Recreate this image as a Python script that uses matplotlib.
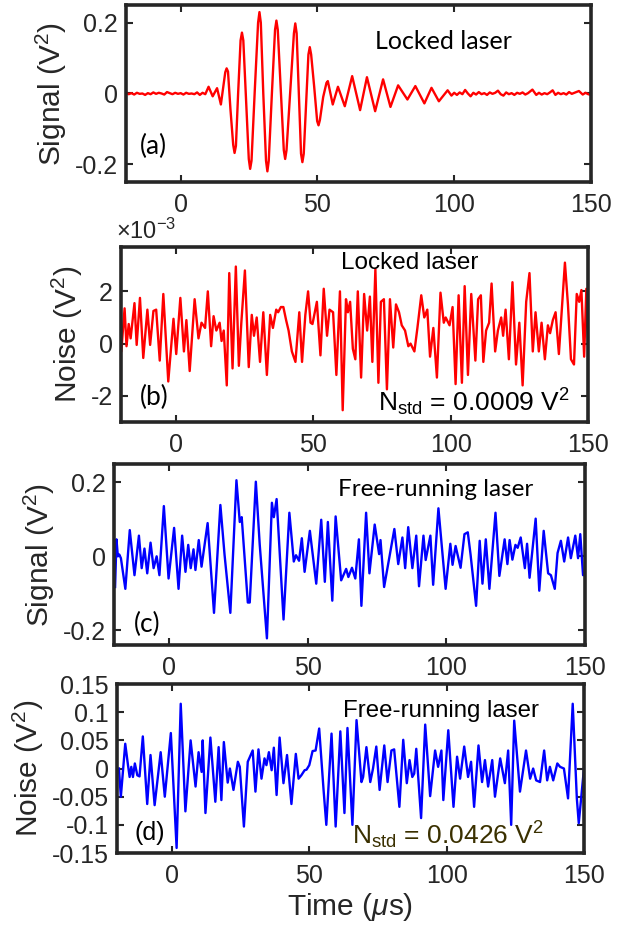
import matplotlib
matplotlib.use('Agg')
import matplotlib.pyplot as plt
import numpy as np

plt.rcParams['font.family'] = ['Liberation Sans', 'DejaVu Sans']
plt.rcParams['axes.unicode_minus'] = False
plt.rcParams['mathtext.fontset'] = 'custom'
plt.rcParams['mathtext.rm'] = 'Liberation Sans'
plt.rcParams['mathtext.it'] = 'Liberation Sans:italic'

# ---- (a) locked laser, signal (V^2)
a_t = [-20, -19, -18, -17, -16, -15, -14, -13, -12, -11, -10, -9, -8, -7, -6, -5, -4, -3,
       -2, -1, 0, 1, 2, 3, 4, 5, 6, 7, 8, 9, 10.2, 11.7, 13.3, 14.7,
       16.3, 16.8, 17.3, 18.2, 19.2, 19.7, 20.2, 21.0, 21.9, 22.4, 22.9, 23.9, 24.9, 25.4,
       25.9, 27.1, 28.3, 28.8, 29.3, 30.2, 31.2, 31.7, 32.2, 33.35, 34.5, 35.0, 35.5, 36.6,
       37.7, 38.2, 38.7, 40.0, 41.4, 41.9, 42.4, 43.2, 44.0, 44.5, 45.0, 45.85, 46.7, 47.2,
       47.7, 48.8, 49.9, 50.4, 50.9, 52.1, 53.3, 53.8, 55.6, 57.5, 60.0,
       62.7, 65.6, 68.1, 71.1, 74.0, 76.7, 79.5, 82.9, 85.8, 89.1, 91.7, 94.4, 97.6,
       99, 100, 101, 102, 103, 104, 105, 106, 107, 108, 109, 110, 111, 112, 113, 114,
       115, 116, 117, 118, 119, 120, 121, 122, 123, 124, 125, 126, 127, 128.6, 130,
       131, 132, 133, 134, 135, 136, 137, 138, 139, 140, 141, 142, 143, 144, 145.6,
       147, 148, 149, 150]
a_v = [0.003, -0.002, 0.001, -0.003, 0.002, -0.001, 0.000, -0.004, 0.001, -0.002, 0.003,
       -0.001, 0.002, 0.000, -0.003, 0.004, 0.001, -0.002, 0.002, -0.001, 0.001, -0.003,
       0.002, -0.001, 0.000, -0.002, 0.003, -0.004, 0.002, -0.002, 0.019, -0.008, 0.015,
       -0.031,
       0.060, 0.071, 0.062, -0.045, -0.145, -0.168, -0.148, 0.000, 0.150, 0.172, 0.150,
       -0.020, -0.185, -0.213, -0.190, 0.010, 0.200, 0.230, 0.200, 0.000, -0.190, -0.220,
       -0.190, 0.000, 0.180, 0.206, 0.180, 0.010, -0.160, -0.185, -0.160, 0.000, 0.170,
       0.198, 0.170, 0.000, -0.170, -0.194, -0.170, -0.030, 0.110, 0.131, 0.110, 0.020,
       -0.078, -0.090, -0.075, -0.010, 0.030, 0.035, -0.031, 0.019, -0.036,
       0.049, -0.047, 0.046, -0.050, 0.040, -0.038, 0.023, -0.017, 0.021, -0.028, 0.016,
       -0.022, 0.009,
       -0.006, 0.002, -0.004, 0.003, -0.002, 0.010, 0.000, -0.008, 0.002, -0.003, 0.004,
       -0.002, 0.001, -0.004, 0.003, -0.001, 0.002, 0.008, -0.002, -0.006, 0.003, -0.002,
       0.001, -0.004, 0.002, -0.001, 0.003, -0.003, 0.001, 0.011, -0.004, 0.002, -0.003,
       0.001, -0.002, 0.003, 0.009, -0.004, 0.002, -0.002, 0.001, -0.003, 0.004, -0.001,
       0.002, 0.007, -0.003, 0.002, -0.002, -0.004]

# ---- (b) locked laser, noise (x 1e-3 V^2)
b_t = [-20.6, -19.9, -18.7, -18.0, -17.2, -16.5, -15.1, -14.3, -13.1, -11.9, -10.4, -9.4,
       -8.2, -7.2, -5.9, -4.6, -2.8, -0.9, 0.1, 1.6, 2.9, 3.8, 5.0, 6.8, 8.2, 9.3, 10.6,
       11.6, 12.8, 13.7, 14.7, 15.9, 16.6, 17.4, 18.5, 19.4, 20.6, 21.8, 22.9, 23.8, 25.1,
       26.5, 27.6, 28.4, 29.4, 30.6, 31.8, 33.1, 34.3, 35.3, 36.5, 37.2, 38.2, 39.1, 40.1,
       41.0, 42.2, 43.5, 44.9, 45.9, 47.1, 48.1, 49.0, 49.7, 51.3, 52.6, 53.8, 55.0, 55.9,
       57.2, 58.4, 59.7, 60.7, 61.9, 62.6, 63.4, 64.4, 65.3, 66.2, 67.4, 68.5, 69.6, 70.6,
       71.5, 72.6, 73.7, 74.6, 75.7, 76.8, 77.9, 79.1, 80.1, 81.2, 82.2, 83.4, 84.6, 85.4,
       86.8, 87.9, 89.3, 90.4, 91.5, 92.5, 93.7, 95.0, 96.3, 97.5, 98.2, 99.6, 100.7, 101.8,
       102.9, 104.1, 105.1, 106.3, 107.5, 109.0, 110.0, 111.0, 111.9, 112.9, 114.0, 114.9,
       116.2, 117.2, 118.4, 119.1, 120.0, 121.2, 122.5, 123.8, 125.0, 126.2, 127.5, 128.7,
       129.9, 130.9, 132.1, 133.1, 134.3, 135.4, 136.2, 137.2, 138.2, 139.4, 141.6, 142.7,
       143.8, 144.9, 145.9, 146.8, 147.6, 148.6, 149.4, 150.0]
b_v = [0.2, -0.3, 1.35, -0.1, 0.75, 0.2, 1.55, -0.05, 1.75, -0.55, 1.3, -0.05, 1.25, 1.3,
       -0.65, 1.9, -1.45, 0.95, -0.4, 1.75, -0.3, 0.9, -1.05, 1.7, 0.2, 0.8, 0.6, 2.0, -0.1,
       1.05, 0.5, 0.8, 0.1, 0.5, -1.6, 2.7, -0.95, 2.95, -0.85, 0.8, 2.8, -0.9, 1.1, 0.3, 1.0,
       -0.7, 1.2, -1.2, 1.1, 0.6, 1.3, 1.2, 1.4, 1.4, 0.9, 0.5, -0.3, -0.7, 1.2, -0.7, 1.1,
       2.0, 0.8, 0.75, 1.6, -0.45, 2.1, 0.3, 1.3, 1.2, -1.2, 2.0, -2.55, 1.7, 1.2, 1.6, -0.2,
       -0.6, 2.0, -1.3, 1.9, 0.5, 1.8, -0.7, 2.85, -1.5, 1.6, 1.7, -1.75, 1.7, -0.15, 1.5,
       1.2, 0.7, 0.5, -0.1, 0.0, -0.3, 0.6, 1.85, 1.0, 1.3, -0.5, 0.6, -1.3, 1.95, 0.8, 1.0,
       0.7, 1.4, -1.55, 1.85, -1.5, 2.2, -1.2, 1.9, -0.65, 1.7, 1.85, -0.7, 0.5, 0.8, 2.3,
       -0.3, 0.5, 1.0, 0.3, 1.3, -0.6, 2.35, -0.8, 0.8, -1.6, 1.6, 2.7, -0.3, 1.2, -0.3, 0.8,
       -0.6, 0.7, 0.4, 0.9, 1.2, -0.4, 3.1, 1.5, -0.6, -0.8, 1.9, 1.6, 2.05, -0.5, 2.1, 0.0]

# ---- (c) free-running laser, signal (V^2)
c_t = [-19.6, -19.1, -18.6, -18.1, -17.5, -15.9, -14.3, -12.6, -11.0, -10.0, -9.0, -8.0,
       -6.8, -5.7, -4.6, -3.6, -2.0, -0.3, 1.7, 3.3, 4.6, 5.8, 6.8, 7.7, 8.7, 9.4, 10.6,
       11.6, 13.8, 16.1, 18.4, 19.9, 22.0, 24.2, 25.4, 26.1, 28.3, 29.0, 31.2, 32.6, 35.2,
       37.0, 37.7, 38.7, 41.2, 43.3, 44.9, 45.7, 46.8, 47.8, 48.8, 50.7, 53.0, 54.8, 56.1,
       57.2, 58.8, 60.0, 62.0, 63.8, 64.6, 65.9, 67.1, 68.4, 69.3, 71.0, 72.2, 74.1, 75.7,
       76.2, 77.5, 81.2, 82.6, 84.1, 85.1, 86.2, 87.7, 89.1, 90.1, 91.7, 92.5, 94.2, 95.2,
       97.1, 99.7, 101.4, 102.2, 103.3, 105.1, 106.5, 107.7, 108.7, 110.7, 112.0, 113.0,
       114.2, 115.5, 117.7, 119.1, 121.0, 122.0, 122.8, 123.8, 124.9, 125.7, 126.8, 128.3,
       129.1, 130.0, 132.2, 133.5, 135.1, 136.7, 137.7, 139.1, 140.1, 141.3, 142.5, 143.9,
       144.9, 146.5, 147.5, 148.3, 149.3, 150.0]
c_v = [-0.083, 0.046, 0.000, 0.005, -0.005, -0.088, 0.071, -0.051, 0.056, -0.032, 0.021,
       -0.046, 0.037, -0.032, 0.000, -0.051, 0.136, -0.060, 0.077, -0.088, 0.056, -0.042,
       0.031, -0.032, 0.019, -0.037, 0.044, -0.028, 0.090, -0.153, 0.139, 0.005, -0.153,
       0.206, 0.093, 0.106, -0.125, -0.125, 0.202, 0.032, -0.222, 0.145, 0.106, 0.155,
       -0.171, 0.118, -0.014, 0.003, -0.012, 0.049, -0.042, 0.069, -0.074, 0.099, -0.069,
       0.093, -0.120, 0.108, -0.065, -0.034, -0.056, -0.031, -0.060, 0.046, -0.134, 0.118,
       -0.046, 0.086, 0.006, 0.044, -0.083, 0.074, -0.021, 0.051, -0.032, 0.079, -0.032,
       0.056, -0.081, 0.056, -0.010, 0.056, -0.077, 0.130, -0.088, 0.034, -0.023, 0.028,
       -0.031, 0.060, 0.065, 0.005, -0.134, 0.042, -0.074, 0.046, -0.088, 0.118, -0.053,
       0.046, -0.021, 0.044, -0.009, 0.031, 0.023, 0.051, -0.032, 0.034, -0.058, 0.102,
       -0.093, 0.069, -0.046, -0.051, -0.088, 0.009, 0.042, -0.014, 0.051, -0.005, 0.056,
       -0.005, 0.060, -0.051, -0.051]

# ---- (d) free-running laser, noise (V^2)
d_t = [-19.3, -18.6, -17.0, -16.0, -15.4, -14.8, -14.2, -13.5, -12.6, -11.8, -10.6, -9.0,
       -7.8, -6.3, -4.1, -2.6, -0.4, 1.7, 3.2, 4.9, 6.8, 8.6, 9.7, 10.8, 11.2, 12.2, 14.0,
       15.8, 17.0, 18.0, 18.9, 20.3, 21.1, 22.4, 24.0, 24.7, 26.2, 27.6, 29.4, 30.4, 31.5,
       32.6, 33.7, 34.4, 35.3, 36.3, 37.1, 38.1, 39.2, 40.6, 41.9, 43.5, 45.1, 46.1, 47.1,
       48.3, 49.0, 50.0, 51.2, 52.3, 53.6, 55.2, 56.2, 58.1, 59.6, 61.3, 62.8, 63.9, 65.7,
       67.2, 69.0, 69.6, 70.8, 72.2, 73.2, 74.4, 75.6, 77.3, 78.5, 79.9, 80.9, 82.8, 84.2,
       85.5, 86.5, 87.5, 88.2, 88.95, 90.7, 92.2, 94.0, 95.8, 96.9, 98.1, 98.8, 100.6, 102.5,
       103.8, 104.9, 106.4, 107.8, 108.9, 110.0, 111.6, 112.9, 113.95, 115.1, 116.6, 117.6,
       119.5, 121.2, 122.4, 123.5, 124.6, 126.7, 128.9, 130.4, 131.5, 132.6, 134.0, 135.5,
       136.6, 137.6, 138.8, 140.3, 141.3, 142.7, 144.2, 145.9, 147.4, 148.1, 150.0]
d_v = [0.000, -0.050, 0.044, 0.006, -0.015, 0.003, -0.015, 0.009, -0.012, -0.014, 0.057,
       -0.063, 0.024, -0.065, 0.029, -0.050, 0.063, -0.141, 0.115, -0.076, 0.050, -0.032,
       0.029, -0.006, 0.050, -0.079, 0.055, -0.059, 0.038, -0.056, 0.047, -0.025, 0.000,
       -0.038, 0.012, 0.003, -0.103, 0.012, 0.032, -0.041, 0.034, -0.018, 0.018, 0.006,
       0.029, -0.003, 0.037, -0.047, 0.055, -0.026, 0.024, -0.063, 0.026, -0.018, -0.012,
       -0.003, -0.002, 0.006, 0.031, 0.032, 0.071, -0.038, -0.100, 0.062, -0.103, 0.066,
       -0.079, 0.072, -0.100, 0.086, -0.024, -0.015, 0.038, -0.024, 0.000, 0.039, -0.038,
       0.041, -0.024, 0.032, 0.034, -0.068, 0.051, -0.026, 0.015, -0.015, -0.009, 0.035,
       -0.088, 0.078, -0.049, 0.032, 0.003, 0.032, -0.056, 0.068, -0.068, 0.021, -0.018,
       0.039, -0.015, 0.012, -0.068, 0.041, -0.024, 0.015, -0.032, 0.015, -0.050, 0.018,
       -0.026, 0.032, -0.100, 0.085, -0.041, 0.032, -0.018, 0.000, -0.021, -0.024, 0.032,
       -0.021, 0.003, -0.021, 0.009, 0.003, 0.000, -0.053, 0.115, -0.053, -0.097, 0.000]

x_ticks = [0, 50, 100, 150]
a_yticks = [-0.2, 0, 0.2]
a_ylabels = ['-0.2', '0', '0.2']
b_yticks = [-2, 0, 2]
b_ylabels = ['-2', '0', '2']
c_yticks = [-0.2, 0, 0.2]
c_ylabels = ['-0.2', '0', '0.2']
d_yticks = [-0.15, -0.1, -0.05, 0, 0.05, 0.1, 0.15]
d_ylabels = ['-0.15', '-0.1', '-0.05', '0', '0.05', '0.1', '0.15']

edge = '#262626'
fig = plt.figure(figsize=(6.28, 9.27), dpi=100)


def style(ax, yt, yl, ylim, ylabel):
    ax.set_xlim(-20, 150)
    ax.set_ylim(ylim)
    ax.set_xticks(x_ticks)
    ax.set_xticklabels([str(v) for v in x_ticks])
    ax.set_yticks(yt)
    ax.set_yticklabels(yl)
    ax.tick_params(direction='in', length=5, width=1.5, top=True, right=True,
                   labelsize=18, colors=edge, pad=8)
    ax.tick_params(axis='y', pad=6)
    for s in ax.spines.values():
        s.set_linewidth(2.6)
        s.set_color(edge)
    ax.set_ylabel(ylabel, fontsize=21.5, color=edge, labelpad=4)


ax1 = fig.add_axes([0.2006, 0.8037, 0.7404, 0.1909])
ax1.plot(a_t, a_v, color='red', lw=1.7)
style(ax1, a_yticks, a_ylabels, (-0.25, 0.25), 'Signal (V$^2$)')
ax1.text(96, 0.148, 'Locked laser', fontsize=18, family='Lato', ha='center', va='center')
ax1.text(-10, -0.15, '(a)', fontsize=19, family='Lato', ha='center', va='center')

ax2 = fig.add_axes([0.1927, 0.5448, 0.7436, 0.1888])
ax2.plot(b_t, b_v, color='red', lw=1.7)
style(ax2, b_yticks, b_ylabels, (-3.0, 3.7), 'Noise (V$^2$)')
ax2.text(85, 3.1, 'Locked laser', fontsize=17.5, ha='center', va='center')
ax2.text(-8, -2.05, '(b)', fontsize=19, family='Lato', ha='center', va='center')
ax2.text(73.5, -2.25, 'N$_{\\rm std}$ = 0.0009 V$^2$', fontsize=19, ha='left', va='center')
ax2.text(-0.01, 1.02, '$\\times$10$^{-3}$', transform=ax2.transAxes, fontsize=17,
         color=edge, ha='left', va='bottom')

ax3 = fig.add_axes([0.1815, 0.3042, 0.75, 0.1953])
ax3.plot(c_t, c_v, color='blue', lw=1.7)
style(ax3, c_yticks, c_ylabels, (-0.24, 0.25), 'Signal (V$^2$)')
ax3.text(96, 0.18, 'Free-running laser', fontsize=17.5, family='Lato', ha='center', va='center')
ax3.text(-8, -0.185, '(c)', fontsize=19, family='Lato', ha='center', va='center')

ax4 = fig.add_axes([0.1863, 0.0798, 0.7436, 0.1823])
ax4.plot(d_t, d_v, color='blue', lw=1.7)
style(ax4, d_yticks, d_ylabels, (-0.15, 0.15), 'Noise (V$^2$)')
ax4.text(98, 0.103, 'Free-running laser', fontsize=17.3, ha='center', va='center')
ax4.text(-8, -0.115, '(d)', fontsize=18, ha='center', va='center')
ax4.text(65.5, -0.118, 'N$_{\\rm std}$ = 0.0426 V$^2$', fontsize=19, color='#3a3000',
         ha='left', va='center')
ax4.set_xlabel('Time ($\\mu$s)', fontsize=21.5, color=edge, labelpad=2)

plt.savefig('out.png', dpi=100)
